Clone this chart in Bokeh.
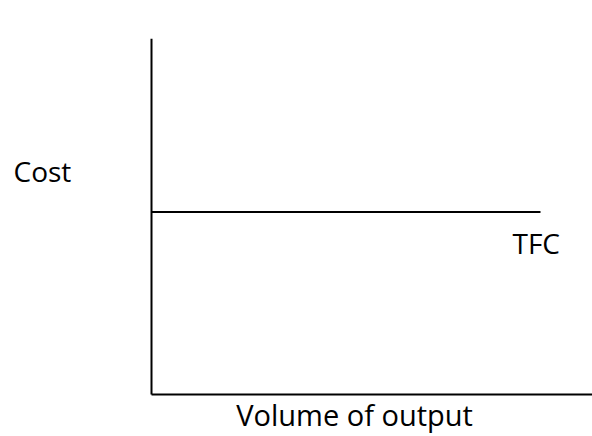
from bokeh.plotting import figure
from bokeh.models import Range1d
from bokeh.core.properties import value
from bokeh.embed import file_html
from bokeh.resources import INLINE

# Data (in chart units: output on x, cost on y)
output_range = [0, 10]      # extent of the TFC line
tfc = [5, 5]                # total fixed cost (constant)
y_axis_top = 9.75
x_axis_end = 11.34

labels = ["Cost", "TFC", "Volume of output"]
label_x = [-3.548, 9.28, 5.22]
label_y = [6.11, 4.14, -0.54]
label_align = ["left", "left", "center"]
label_size = ["28px", "28px", "29px"]

p = figure(width=592, height=436, output_backend="svg", toolbar_location=None,
           x_range=Range1d(-3.882, 11.337), y_range=Range1d(-1.151, 10.795),
           min_border=0, outline_line_color=None)
p.axis.visible = False
p.grid.visible = False
p.background_fill_color = "white"
p.border_fill_color = "white"

# axes
p.line([0, 0], [0, y_axis_top], line_color="black", line_width=2)
p.line([0, x_axis_end], [0, 0], line_color="black", line_width=2)

# TFC line
p.line(output_range, tfc, line_color="black", line_width=2)

for t, x, y, a, s in zip(labels, label_x, label_y, label_align, label_size):
    p.text(x=[x], y=[y], text=[t], text_font=value("Open Sans"),
           text_font_size=s, text_color="black", text_align=a,
           text_baseline="alphabetic")

open("out.html", "w").write(file_html(p, INLINE))
